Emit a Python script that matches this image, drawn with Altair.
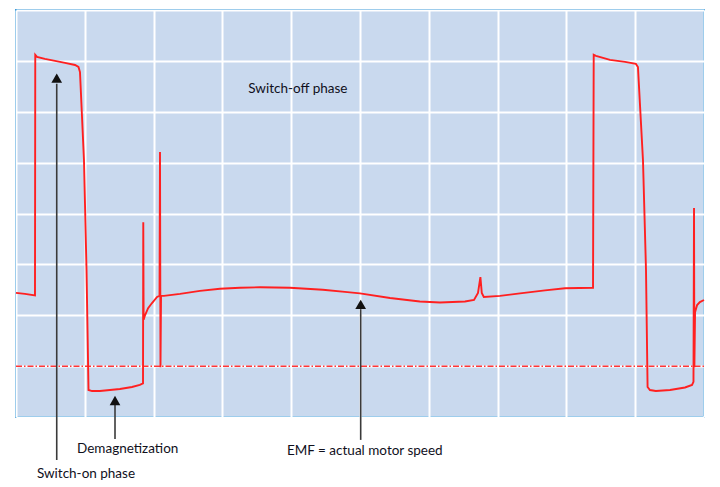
import altair as alt
import pandas as pd

# Oscilloscope trace (x in grid divisions 0..10, y in grid divisions 0..8)
trace_x = [0, 0.13, 0.276, 0.28, 0.305, 0.42, 0.567, 0.712, 0.858, 0.908, 0.93, 0.988, 1.025, 1.054,
           1.105, 1.22, 1.366, 1.51, 1.686, 1.80, 1.846, 1.85, 1.855, 1.875, 1.92, 1.977, 2.05, 2.086,
           2.093, 2.10, 2.108, 2.15, 2.384, 2.674, 2.965, 3.256, 3.547, 3.98, 4.46, 4.78, 5.0, 5.436,
           5.87, 6.163, 6.526, 6.657, 6.715, 6.75, 6.77, 6.80, 7.035, 7.326, 7.689, 7.98, 8.387, 8.397,
           8.43, 8.634, 8.852, 9.01, 9.04, 9.113, 9.157, 9.18, 9.215, 9.30, 9.506, 9.724, 9.826, 9.847,
           9.855, 9.86, 9.87, 9.90, 9.94, 10.0]
trace_y = [2.44, 2.42, 2.39, 7.12, 7.08, 7.04, 7.00, 6.96, 6.92, 6.88, 6.78, 5.05, 2.89, 0.53,
           0.51, 0.51, 0.53, 0.55, 0.59, 0.63, 0.66, 3.83, 1.91, 2.0, 2.14, 2.24, 2.36, 2.38,
           5.21, 0.98, 2.38, 2.38, 2.42, 2.48, 2.52, 2.54, 2.55, 2.54, 2.50, 2.46, 2.43, 2.34,
           2.27, 2.25, 2.27, 2.30, 2.44, 2.75, 2.44, 2.36, 2.38, 2.43, 2.49, 2.53, 2.54, 7.12,
           7.10, 7.02, 6.98, 6.94, 6.88, 5.05, 2.89, 0.59, 0.53, 0.51, 0.53, 0.58, 0.63, 0.69,
           4.11, 0.98, 2.06, 2.20, 2.26, 2.30]

ground_level = [1.0]

# Annotation arrows
arrow_x = [0.592, 1.439, 5.01]
arrow_head_y = [6.66, 0.324, 2.215]
arrow_base_y = [6.55, 0.24, 2.12]
arrow_end_y = [-0.845, -0.43, -0.45]

# Labels
label_text = ["Switch-off phase", "Demagnetization", "Switch-on phase", "EMF = actual motor speed"]
label_x = [3.376, 1.623, 1.017, 5.07]
label_y = [6.44, -0.635, -1.12, -0.66]
label_align = ["left", "center", "center", "center"]

trace = pd.DataFrame({"x": trace_x, "y": trace_y, "i": range(len(trace_x))})
arrows = pd.DataFrame({"x": arrow_x, "yh": arrow_head_y, "yb": arrow_base_y, "ye": arrow_end_y})
labels = pd.DataFrame({"t": label_text, "x": label_x, "y": label_y, "a": label_align})
ground = pd.DataFrame({"y": ground_level, "x0": [0], "x1": [10]})

xs = alt.Scale(domain=[0, 10], nice=False, zero=False)
ys = alt.Scale(domain=[0, 8], nice=False, zero=False)
xax = alt.Axis(values=list(range(0, 11)), grid=True, gridColor="white", gridWidth=2, labels=False,
               ticks=False, domain=False, title=None)
yax = alt.Axis(values=list(range(0, 9)), grid=True, gridColor="white", gridWidth=2, labels=False,
               ticks=False, domain=False, title=None)

base_line = alt.Chart(trace).mark_line(color="#ff2020", strokeWidth=1.9).encode(
    x=alt.X("x:Q", scale=xs, axis=xax),
    y=alt.Y("y:Q", scale=ys, axis=yax),
    order="i:Q",
)

ground_line = alt.Chart(ground).mark_rule(color="#ff2020", strokeWidth=1.5, strokeDash=[6, 2, 1.5, 2],
                                          opacity=0.9).encode(
    x=alt.X("x0:Q", scale=xs), x2="x1:Q", y=alt.Y("y:Q", scale=ys)
)

arrow_lines = alt.Chart(arrows).mark_rule(color="#3a3a3a", strokeWidth=1.6).encode(
    x=alt.X("x:Q", scale=xs), y=alt.Y("yb:Q", scale=ys), y2="ye:Q"
)
arrow_heads = alt.Chart(arrows).mark_point(shape="triangle-up", filled=True, color="#111111",
                                           size=115, opacity=1).encode(
    x=alt.X("x:Q", scale=xs), y=alt.Y("yh:Q", scale=ys)
)

def label_layer(align):
    return alt.Chart(labels).transform_filter(alt.datum.a == align).mark_text(
        font="Lato", fontSize=13.5, color="#10101c", align=align, baseline="middle"
    ).encode(x=alt.X("x:Q", scale=xs), y=alt.Y("y:Q", scale=ys), text="t:N")

chart = alt.layer(
    base_line, ground_line, arrow_lines, arrow_heads, label_layer("left"), label_layer("center")
).properties(
    width=688, height=407,
    autosize=alt.AutoSizeParams(type="none"),
    padding={"left": 8, "top": 2, "right": 8, "bottom": 68},
).configure_view(
    fill="#c9d9ee", stroke="#3d9ad8", strokeWidth=2
)

chart.save("out.html", embed_options={"renderer": "svg", "actions": False})
